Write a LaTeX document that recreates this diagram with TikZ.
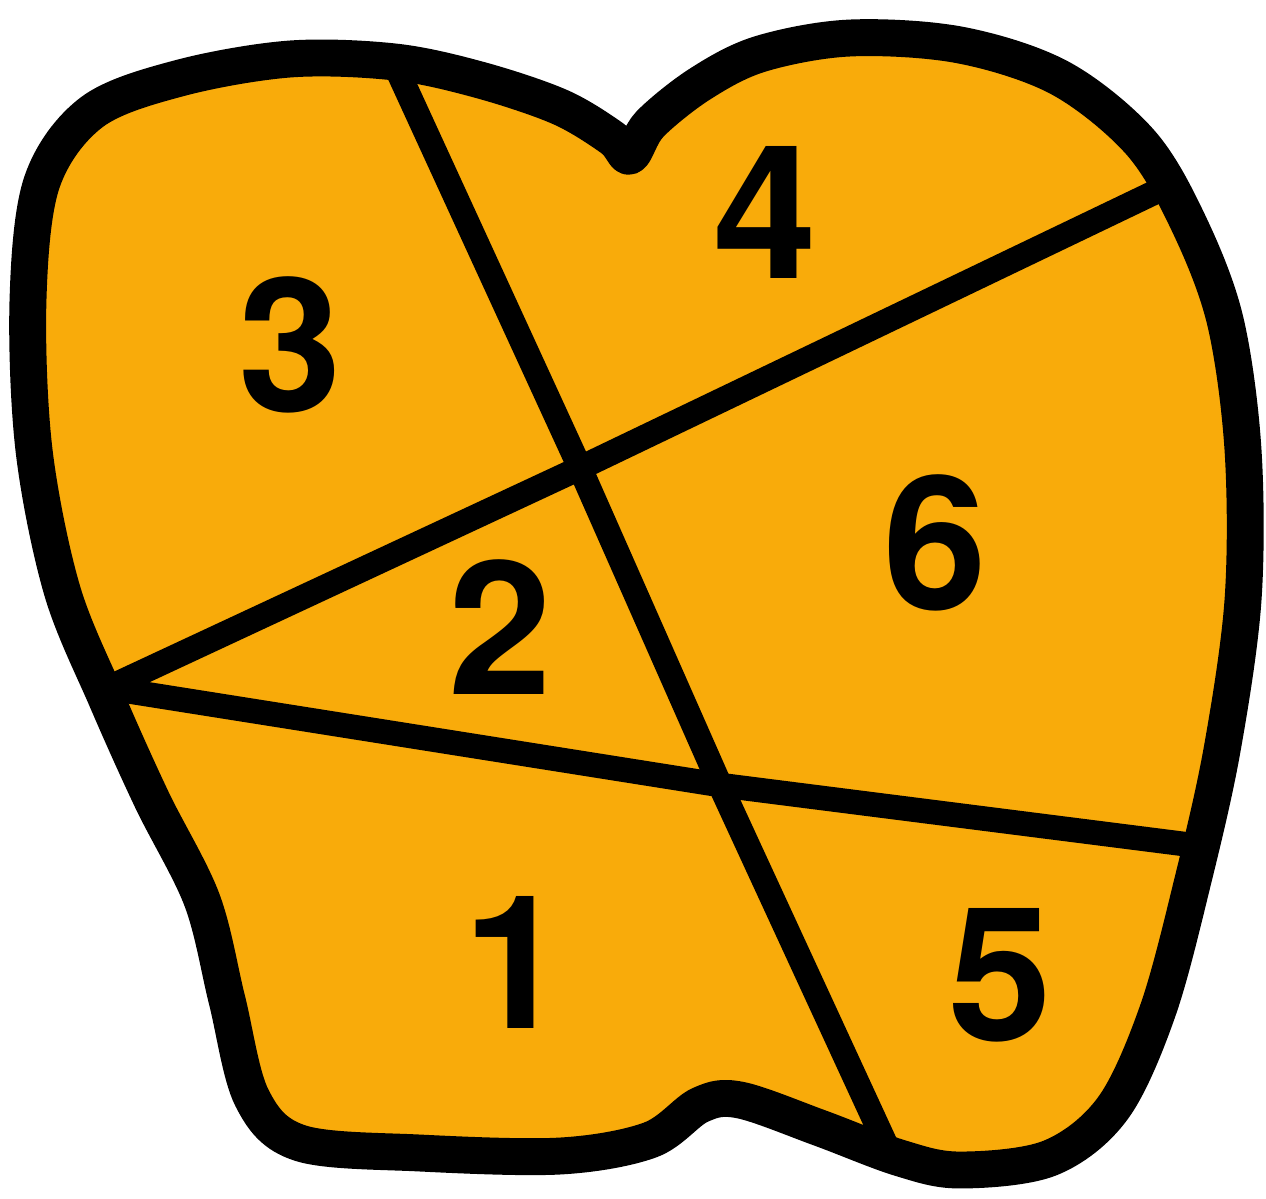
\documentclass[tikz,border=0pt]{standalone}
\usepackage{fontspec}
\setmainfont{Liberation Sans}
\newfontfamily\digitfont{TeX Gyre Heros}
\definecolor{toothfill}{HTML}{F9AB0A}
\begin{document}
\begin{tikzpicture}[x=0.02cm,y=-0.02cm,
  outline/.style={draw=black,line width=21pt,line join=round,fill=toothfill},
  divider/.style={draw=black,line width=14pt,line cap=round,line join=round},
  digit/.style={inner sep=0pt,font=\digitfont\bfseries\fontsize{106}{106}\selectfont}]
\useasboundingbox (0,0) rectangle (1266,1198);
\path[outline] plot[smooth cycle,tension=0.55] coordinates{
 (395,62) (480,80) (560,107) (612,138) (630,156) (650,124) (700,84) (760,54)
 (850,38) (960,45) (1060,78) (1140,142) (1188,222) (1225,320) (1243,450)
 (1243,600) (1222,750) (1193,880) (1158,1010) (1113,1108) (1050,1158)
 (960,1170) (900,1158) (820,1128) (740,1100) (700,1105) (650,1140)
 (560,1156) (420,1153) (300,1143) (252,1098) (227,1000) (202,900)
 (152,800) (107,700) (62,590) (34,450) (28,300) (42,182) (92,112)
 (180,78) (290,59)};
\coordinate (aTop) at (395,65);
\coordinate (aBot) at (893,1160);
\coordinate (bTop) at (1170,185);
\coordinate (left) at (108,688);
\coordinate (cRight) at (1192,845);
\coordinate (x1) at (580,468);
\coordinate (x2) at (720,785);
\draw[divider] (aTop) -- (x1) -- (x2) -- (aBot);
\draw[divider] (bTop) -- (x1) -- (left);
\draw[divider] (left) -- (x2) -- (cRight);
\node[digit] (n3) at (290,345) {3};
\node[digit] (n4) at (765,212) {4};
\node[digit] (n6) at (935,543) {6};
\node[digit] (n2) at (500,627) {2};
\node[digit] (n1) at (515,962) {1};
\node[digit] (n5) at (1000,975) {5};
\end{tikzpicture}
\end{document}
